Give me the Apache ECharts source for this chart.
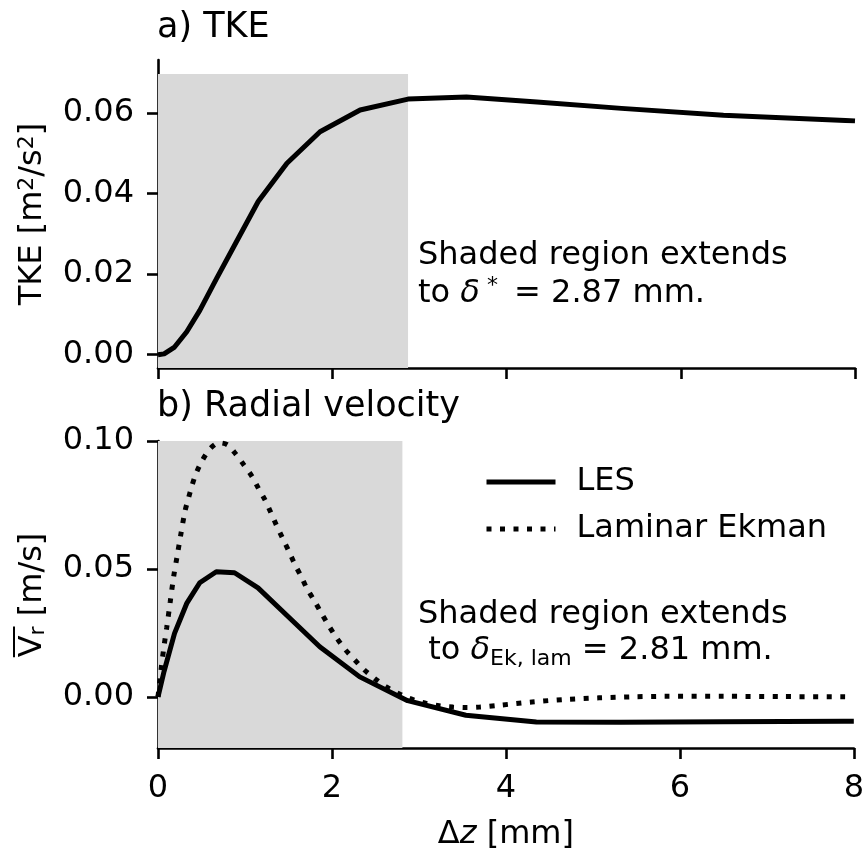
<!DOCTYPE html>
<html><head><meta charset="utf-8">
<script src="https://cdn.jsdelivr.net/npm/echarts@6/dist/echarts.min.js"></script>
<style>html,body{margin:0;padding:0;background:#fff}#c{width:867px;height:853px}</style>
</head><body><div id="c"></div>
<script>
// ---- data ----
const zLES   = [0, 0.07, 0.19, 0.33, 0.48, 0.67, 0.88, 1.15, 1.48, 1.86, 2.32, 2.87, 3.54, 4.35, 5.32, 6.49, 7.89, 8.0];
const tkeLES = [0, 0.0002, 0.0019, 0.0057, 0.0110, 0.0188, 0.0272, 0.0380, 0.0475, 0.0553, 0.0607, 0.0634, 0.0639, 0.0627, 0.0611, 0.0594, 0.0581, 0.0580];
const vrLES  = [0, 0.0100, 0.0248, 0.0365, 0.0446, 0.0489, 0.0485, 0.0426, 0.0319, 0.0196, 0.0078, -0.0015, -0.0072, -0.0098, -0.0099, -0.0097, -0.0095, -0.0095];
const zLam   = [0, 0.04, 0.07, 0.10, 0.14, 0.18, 0.22, 0.26, 0.31, 0.35, 0.39, 0.44, 0.51, 0.60, 0.70, 0.80, 0.88, 0.98, 1.08, 1.15, 1.23, 1.30, 1.36, 1.43, 1.51, 1.57, 1.65, 1.71, 1.80, 1.88, 1.96, 2.05, 2.15, 2.26, 2.37, 2.49, 2.62, 2.76, 2.89, 3.04, 3.23, 3.39, 3.54, 3.70, 3.92, 4.30, 4.69, 5.07, 5.45, 5.83, 6.50, 7.20, 7.95];
const vrLam  = [0, 0.012, 0.020, 0.027, 0.037, 0.047, 0.055, 0.063, 0.0725, 0.0776, 0.0825, 0.0875, 0.0925, 0.0970, 0.0993, 0.0985, 0.0955, 0.0910, 0.0862, 0.0818, 0.0770, 0.0718, 0.0672, 0.0622, 0.0565, 0.0520, 0.0468, 0.0425, 0.0374, 0.0326, 0.0280, 0.0232, 0.0186, 0.0145, 0.0106, 0.0072, 0.0040, 0.0014, -0.0006, -0.0022, -0.0035, -0.0040, -0.0042, -0.0040, -0.0033, -0.0020, -0.0010, -0.0004, 0.0000, 0.0002, 0.0002, 0.0001, 0.0000];
const xTicks   = [0, 2, 4, 6, 8];
const tkeTicks = [0, 0.02, 0.04, 0.06];
const vrTicks  = [0, 0.05, 0.10];
const tkeRange = [-0.0033, 0.0731];
const vrRange  = [-0.02, 0.10];
const tkeShadeX = [0, 2.87];
const tkeShadeTop = 0.0696;
const vrShadeX = [0, 2.81];
const seriesNames = ['LES', 'Laminar Ekman'];

// ---- rendering ----
const FONT = 'DejaVu Sans';
const pairs = (xs, ys) => xs.map((x, i) => [x, ys[i]]);
const chart = echarts.init(document.getElementById('c'), null, {renderer: 'canvas'});
const axisLine = {show: true, onZero: false, lineStyle: {color: '#000', width: 2.6}};
const tick = (vals) => ({show: true, length: 11, lineStyle: {color: '#000', width: 2.6}, customValues: vals});
const lbl = {fontSize: 32, color: '#000', fontFamily: FONT};
const LW = 5;
const DOT = [5, 8.5];

function tw(text, size, style) {
  const c = tw.c || (tw.c = document.createElement('canvas').getContext('2d'));
  c.font = (style || '') + ' ' + size + 'px "' + FONT + '"';
  return c.measureText(text).width;
}
const wV = tw('V', 32), wr = tw('r', 22), wRest = tw(' [m/s]', 32);
const W = wV + wr + wRest;

const option = {
  animation: false,
  backgroundColor: '#fff',
  textStyle: {fontFamily: FONT},
  title: [
    {text: 'a) TKE', left: 157, top: 10, padding: 0, textStyle: {fontSize: 35, lineHeight: 35, fontWeight: 'normal', color: '#000', fontFamily: FONT}},
    {text: 'b) Radial velocity', left: 157, top: 389, padding: 0, textStyle: {fontSize: 35, lineHeight: 35, fontWeight: 'normal', color: '#000', fontFamily: FONT}}
  ],
  grid: [
    {left: 158, top: 60, width: 697, height: 308},
    {left: 158, top: 441, width: 697, height: 307}
  ],
  xAxis: [
    {gridIndex: 0, type: 'value', min: 0, max: 8, interval: 2, axisLine, axisTick: tick(xTicks), axisLabel: {show: false}, splitLine: {show: false}},
    {gridIndex: 1, type: 'value', min: 0, max: 8, interval: 2, axisLine, axisTick: tick(xTicks),
     axisLabel: Object.assign({margin: 25, customValues: xTicks}, lbl), splitLine: {show: false},
     name: '{n|Δ}{i|z}{n| [mm]}', nameLocation: 'middle', nameGap: 71,
     nameTextStyle: {rich: {n: {fontSize: 32, lineHeight: 32, color: '#000', fontFamily: FONT}, i: {fontSize: 32, lineHeight: 32, fontStyle: 'italic', color: '#000', fontFamily: FONT}}}}
  ],
  yAxis: [
    {gridIndex: 0, type: 'value', min: tkeRange[0], max: tkeRange[1], axisLine, axisTick: tick(tkeTicks),
     axisLabel: Object.assign({margin: 24, customValues: tkeTicks, formatter: v => v.toFixed(2)}, lbl), splitLine: {show: false},
     name: '{n|TKE [m}{s|2}{n|/s}{s|2}{n|]}', nameLocation: 'middle', nameRotate: 90, nameGap: 108,
     nameTextStyle: {rich: {n: {fontSize: 32, lineHeight: 34, color: '#000', fontFamily: FONT}, s: {fontSize: 22, lineHeight: 22, verticalAlign: 'top', color: '#000', fontFamily: FONT}}}},
    {gridIndex: 1, type: 'value', min: vrRange[0], max: vrRange[1], axisLine, axisTick: tick(vrTicks),
     axisLabel: Object.assign({margin: 24, customValues: vrTicks, formatter: v => v.toFixed(2)}, lbl), splitLine: {show: false}}
  ],
  legend: {
    data: seriesNames, orient: 'vertical', left: 484, top: 462, padding: 0,
    itemWidth: 69, itemHeight: 20, itemGap: 7,
    itemStyle: {opacity: 0},
    lineStyle: {width: LW, color: '#000'},
    textStyle: {fontSize: 32, lineHeight: 40, color: '#000', fontFamily: FONT, padding: [0, 0, 0, 16]}
  },
  series: [
    {type: 'line', name: 'shadeA', xAxisIndex: 0, yAxisIndex: 0, data: [], z: 1, silent: true,
     markArea: {silent: true, itemStyle: {color: '#d9d9d9'}, data: [[{xAxis: tkeShadeX[0], yAxis: tkeRange[0]}, {xAxis: tkeShadeX[1], yAxis: tkeShadeTop}]]}},
    {type: 'line', name: 'shadeB', xAxisIndex: 1, yAxisIndex: 1, data: [], z: 1, silent: true,
     markArea: {silent: true, itemStyle: {color: '#d9d9d9'}, data: [[{xAxis: vrShadeX[0], yAxis: vrRange[0]}, {xAxis: vrShadeX[1], yAxis: vrRange[1]}]]}},
    {type: 'line', name: 'TKE', xAxisIndex: 0, yAxisIndex: 0, data: pairs(zLES, tkeLES), symbol: 'none', z: 3,
     lineStyle: {color: '#000', width: LW, join: 'round'}},
    {type: 'line', name: seriesNames[0], xAxisIndex: 1, yAxisIndex: 1, data: pairs(zLES, vrLES), symbol: 'none', z: 4,
     lineStyle: {color: '#000', width: LW, join: 'round'}, itemStyle: {color: '#000'}},
    {type: 'line', name: seriesNames[1], xAxisIndex: 1, yAxisIndex: 1, data: pairs(zLam, vrLam), symbol: 'none', z: 3, smooth: 0.3,
     lineStyle: {color: '#000', width: LW, type: DOT, cap: 'butt'}, itemStyle: {color: '#000'}}
  ],
  graphic: [
    {type: 'text', x: 418, y: 256, style: {text: 'Shaded region extends', fontSize: 32, fontFamily: FONT, fill: '#000', verticalAlign: 'middle'}},
    {type: 'text', x: 418, y: 294, style: {text: 'to {d|δ}{s|*} = 2.87 mm.', fontSize: 32, fontFamily: FONT, fill: '#000', verticalAlign: 'middle', lineHeight: 38,
      rich: {d: {fontSize: 32, lineHeight: 38, fontStyle: 'italic', fontFamily: FONT, fill: '#000'}, s: {fontSize: 22, lineHeight: 22, verticalAlign: 'top', fontFamily: FONT, fill: '#000', padding: [0, 6, 0, 7]}}}},
    {type: 'text', x: 418, y: 615, style: {text: 'Shaded region extends', fontSize: 32, fontFamily: FONT, fill: '#000', verticalAlign: 'middle'}},
    {type: 'text', x: 418, y: 651, style: {text: ' to {d|δ}{s|Ek, lam} = 2.81 mm.', fontSize: 32, fontFamily: FONT, fill: '#000', verticalAlign: 'middle', lineHeight: 38,
      rich: {d: {fontSize: 32, lineHeight: 38, fontStyle: 'italic', fontFamily: FONT, fill: '#000'}, s: {fontSize: 22, lineHeight: 21, verticalAlign: 'bottom', fontFamily: FONT, fill: '#000'}}}},
    {type: 'group', x: 33, y: 595, rotation: Math.PI / 2, children: [
      {type: 'text', x: -W / 2, y: 0, style: {text: '{v|V}{s|r}{v| [m/s]}', verticalAlign: 'middle', align: 'left', lineHeight: 32,
        rich: {v: {fontSize: 32, lineHeight: 32, fontFamily: FONT, fill: '#000'}, s: {fontSize: 22, lineHeight: 20, verticalAlign: 'bottom', fontFamily: FONT, fill: '#000'}}}},
      {type: 'line', shape: {x1: -W / 2, y1: -19, x2: -W / 2 + wV + wr, y2: -19}, style: {stroke: '#000', lineWidth: 2}}
    ]}
  ]
};
chart.setOption(option);
</script>
</body></html>
